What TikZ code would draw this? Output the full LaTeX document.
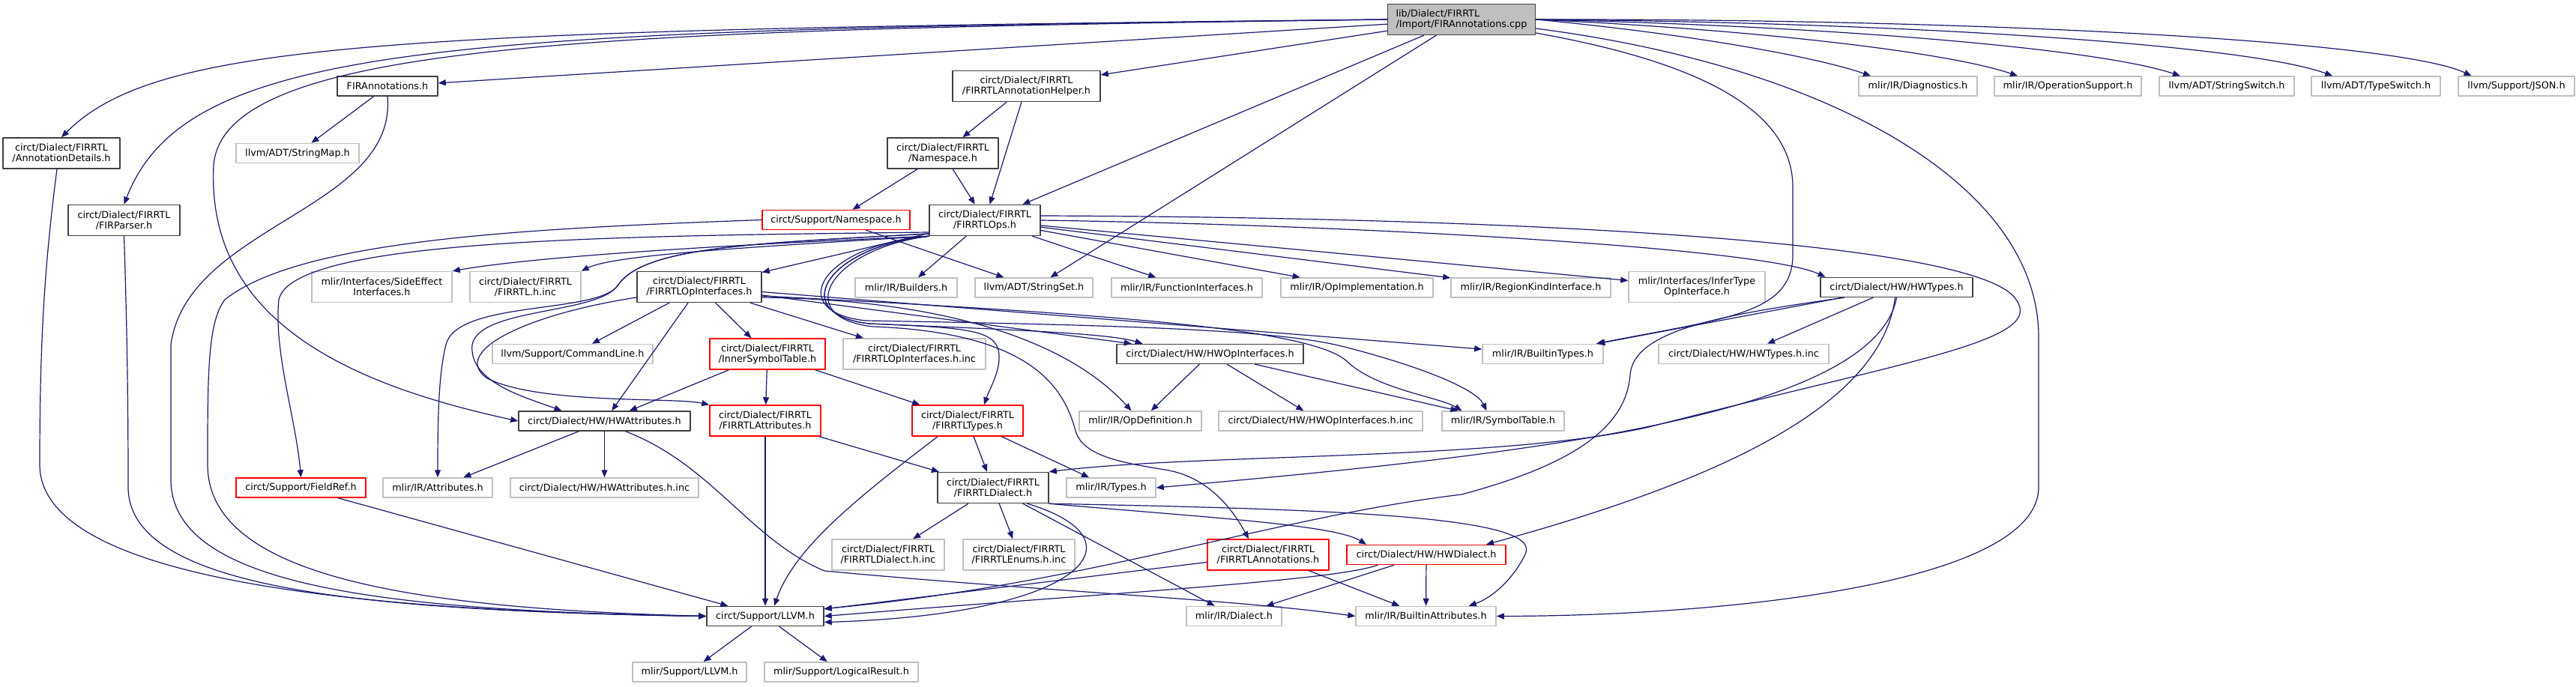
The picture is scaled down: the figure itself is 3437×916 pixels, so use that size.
\documentclass[tikz,border=0pt]{standalone}
\usepackage{fontspec}
\setmainfont{DejaVu Sans}
\usetikzlibrary{arrows.meta}
\definecolor{depblue}{RGB}{25,25,112}
\begin{document}
\begin{tikzpicture}[x=1pt, y=-1pt, line join=round, line cap=round, >={Triangle[length=10pt,width=8pt]},
	font=\fontsize{12.8}{14}\selectfont,
	file/.style={draw=black!75, line width=1.5pt, minimum height=26pt, inner sep=0pt, align=center},
	sys/.style={file, draw=black!25},
	trunc/.style={file, draw=red},
	twoline/.style={minimum height=41pt},
	dep/.style={draw=depblue, line width=1.2pt, ->}]
	\useasboundingbox (0,0) rectangle (3437,916);

	\node[file, fill=black!25, twoline, align=left, minimum width=197pt] (root) at (1950,26) {lib/Dialect/FIRRTL\\/Import/FIRAnnotations.cpp};
	\node[file, minimum width=134pt] (firann) at (517,115) {FIRAnnotations.h};
	\node[sys, minimum width=164pt] (strMap) at (397,204.5) {llvm/ADT/StringMap.h};
	\node[file, twoline, minimum width=156pt] (annDet) at (82,204.5) {circt/Dialect/FIRRTL\\/AnnotationDetails.h};
	\node[file, twoline, minimum width=149pt] (firPar) at (165.5,294) {circt/Dialect/FIRRTL\\/FIRParser.h};
	\node[file, twoline, minimum width=197pt] (annHelp) at (1369.5,115) {circt/Dialect/FIRRTL\\/FIRRTLAnnotationHelper.h};
	\node[file, twoline, minimum width=148pt] (fNs) at (1258,204.5) {circt/Dialect/FIRRTL\\/Namespace.h};
	\node[trunc, minimum width=197pt] (sNs) at (1115.5,293.5) {circt/Support/Namespace.h};
	\node[file, twoline, minimum width=148pt] (ops) at (1314,294) {circt/Dialect/FIRRTL\\/FIRRTLOps.h};
	\node[sys, minimum width=158pt] (diag) at (2559,115) {mlir/IR/Diagnostics.h};
	\node[sys, minimum width=196pt] (opSup) at (2759,115) {mlir/IR/OperationSupport.h};
	\node[sys, minimum width=180pt] (strSw) at (2971,115) {llvm/ADT/StringSwitch.h};
	\node[sys, minimum width=172pt] (typeSw) at (3170,115) {llvm/ADT/TypeSwitch.h};
	\node[sys, minimum width=155pt] (json) at (3357.5,115) {llvm/Support/JSON.h};
	\node[sys, twoline, minimum width=187pt] (sideEff) at (509.5,383) {mlir/Interfaces/SideEffect\\Interfaces.h};
	\node[sys, twoline, minimum width=148pt] (firInc) at (701,383) {circt/Dialect/FIRRTL\\/FIRRTL.h.inc};
	\node[file, twoline, minimum width=166pt] (opIf) at (933,383) {circt/Dialect/FIRRTL\\/FIRRTLOpInterfaces.h};
	\node[sys, minimum width=136pt] (build) at (1209,384) {mlir/IR/Builders.h};
	\node[sys, minimum width=157pt] (strSet) at (1379.5,384) {llvm/ADT/StringSet.h};
	\node[sys, minimum width=201pt] (funcIf) at (1583.5,384) {mlir/IR/FunctionInterfaces.h};
	\node[sys, minimum width=203pt] (opImpl) at (1810.5,384) {mlir/IR/OpImplementation.h};
	\node[sys, minimum width=213pt] (regKind) at (2042.5,384) {mlir/IR/RegionKindInterface.h};
	\node[sys, twoline, minimum width=182pt] (infer) at (2264,383) {mlir/Interfaces/InferType\\OpInterface.h};
	\node[file, minimum width=203pt] (hwTy) at (2530.5,383.5) {circt/Dialect/HW/HWTypes.h};
	\node[sys, minimum width=214pt] (cmdLine) at (764,472.5) {llvm/Support/CommandLine.h};
	\node[trunc, twoline, minimum width=154pt] (innerSym) at (1024,472.5) {circt/Dialect/FIRRTL\\/InnerSymbolTable.h};
	\node[sys, twoline, minimum width=190pt] (opIfInc) at (1220,472.5) {circt/Dialect/FIRRTL\\/FIRRTLOpInterfaces.h.inc};
	\node[file, minimum width=249pt] (hwOpIf) at (1614.5,472.5) {circt/Dialect/HW/HWOpInterfaces.h};
	\node[sys, minimum width=161pt] (bTypes) at (2058.5,472.5) {mlir/IR/BuiltinTypes.h};
	\node[sys, minimum width=227pt] (hwTyInc) at (2326.5,472.5) {circt/Dialect/HW/HWTypes.h.inc};
	\node[file, minimum width=229pt] (hwAttr) at (806.5,562) {circt/Dialect/HW/HWAttributes.h};
	\node[trunc, twoline, minimum width=148pt] (fAttr) at (1021,561.5) {circt/Dialect/FIRRTL\\/FIRRTLAttributes.h};
	\node[trunc, twoline, minimum width=148pt] (fTypes) at (1291,561.5) {circt/Dialect/FIRRTL\\/FIRRTLTypes.h};
	\node[sys, minimum width=163pt] (opDef) at (1521.5,562) {mlir/IR/OpDefinition.h};
	\node[sys, minimum width=272pt] (hwOpIfInc) at (1762,562) {circt/Dialect/HW/HWOpInterfaces.h.inc};
	\node[sys, minimum width=163pt] (symTab) at (2005.5,562) {mlir/IR/SymbolTable.h};
	\node[trunc, minimum width=173pt] (fieldRef) at (401.5,651) {circt/Support/FieldRef.h};
	\node[sys, minimum width=146pt] (attrs) at (584,651) {mlir/IR/Attributes.h};
	\node[sys, minimum width=251pt] (hwAttrInc) at (806.5,651) {circt/Dialect/HW/HWAttributes.h.inc};
	\node[file, twoline, minimum width=148pt] (fDial) at (1325,651) {circt/Dialect/FIRRTL\\/FIRRTLDialect.h};
	\node[sys, minimum width=119pt] (types) at (1482.5,651) {mlir/IR/Types.h};
	\node[sys, twoline, minimum width=150pt] (fDialInc) at (1185,740.5) {circt/Dialect/FIRRTL\\/FIRRTLDialect.h.inc};
	\node[sys, twoline, minimum width=149pt] (fEnums) at (1359.5,740.5) {circt/Dialect/FIRRTL\\/FIRRTLEnums.h.inc};
	\node[trunc, twoline, minimum width=162pt] (fAnno) at (1692,740.5) {circt/Dialect/FIRRTL\\/FIRRTLAnnotations.h};
	\node[trunc, minimum width=212pt] (hwDial) at (1903,740.5) {circt/Dialect/HW/HWDialect.h};
	\node[file, minimum width=156pt] (cLLVM) at (1021,822.5) {circt/Support/LLVM.h};
	\node[sys, minimum width=127pt] (dialect) at (1646.5,822.5) {mlir/IR/Dialect.h};
	\node[sys, minimum width=187pt] (bAttrs) at (1902.5,822.5) {mlir/IR/BuiltinAttributes.h};
	\node[sys, minimum width=152pt] (mLLVM) at (920,897) {mlir/Support/LLVM.h};
	\node[sys, minimum width=205pt] (logRes) at (1122.5,897) {mlir/Support/LogicalResult.h};

	\foreach \a/\b in {root/firann, root/annHelp, root/ops, root/strSet, firann/strMap, annHelp/fNs, annHelp/ops,
		fNs/sNs, fNs/ops, sNs/strSet, ops/opIf, ops/build, ops/funcIf, ops/opImpl, ops/regKind, ops/infer,
		opIf/cmdLine, opIf/innerSym, opIf/opIfInc, opIf/hwOpIf, opIf/bTypes, opIf/hwAttr,
		innerSym/hwAttr, innerSym/fAttr, innerSym/fTypes, hwOpIf/opDef, hwOpIf/hwOpIfInc, hwOpIf/symTab,
		hwTy/bTypes, hwTy/hwTyInc, hwAttr/attrs, hwAttr/hwAttrInc, fAttr/fDial, fAttr/cLLVM,
		fTypes/fDial, fTypes/types, fieldRef/cLLVM, fDial/fDialInc, fDial/fEnums, fDial/dialect,
		fAnno/cLLVM, fAnno/bAttrs, hwDial/dialect, hwDial/bAttrs, cLLVM/mLLVM, cLLVM/logRes}
		\draw[dep] (\a) -- (\b);

	\draw[dep] (root.west) .. controls (520,40) and (210,55) .. (annDet.north);
	\draw[dep] (root.west) .. controls (600,40) and (250,55) .. (firPar.north);
	\draw[dep] (root.west) .. controls (800,40) and (300,55) .. (285,220) .. controls (275,420) and (450,510) .. (hwAttr.west);
	\draw[dep] (root.east) .. controls (2250,45) and (2420,75) .. ([xshift=-63pt]diag.north);
	\draw[dep] (root.east) .. controls (2350,40) and (2600,70) .. ([xshift=-67pt]opSup.north);
	\draw[dep] (root.east) .. controls (2450,35) and (2800,65) .. ([xshift=-62pt]strSw.north);
	\draw[dep] (root.east) .. controls (2550,30) and (3000,60) .. ([xshift=-58pt]typeSw.north);
	\draw[dep] (root.east) .. controls (2650,25) and (3200,55) .. ([xshift=-60pt]json.north);
	\draw[dep] ([yshift=-18pt]root.east) .. controls (2250,80) and (2392,140) .. (2392,250) -- (2392,340) .. controls (2392,420) and (2300,425) .. ([xshift=-10pt]bTypes.north east);
	\draw[dep] ([yshift=-12pt]root.east) .. controls (2450,90) and (2720,250) .. (2720,450) -- (2720,650) .. controls (2720,780) and (2300,822) .. (bAttrs.east);

	\draw[dep] (firann.south) .. controls (530,280) and (250,300) .. (228,460) -- (228,640) .. controls (228,780) and (500,815) .. (cLLVM.west);
	\draw[dep] ([xshift=-6pt]annDet.south) .. controls (60,350) and (53,450) .. (53,620) .. controls (53,760) and (400,815) .. (cLLVM.west);
	\draw[dep] (firPar.south) .. controls (170,450) and (171,550) .. (171,650) .. controls (171,790) and (500,815) .. (cLLVM.west);
	\draw[dep] (sNs.west) .. controls (700,305) and (400,320) .. (300,400) .. controls (277,430) and (277,500) .. (277,620) .. controls (277,770) and (550,812) .. (cLLVM.west);

	\draw[dep] (ops.south west) .. controls (900,330) and (700,345) .. (sideEff.north east);
	\draw[dep] (ops.south west) .. controls (1000,330) and (820,340) .. (firInc.north east);
	\draw[dep] ([yshift=-16pt]ops.west) .. controls (800,315) and (390,320) .. (372,400) .. controls (365,470) and (395,560) .. (fieldRef.north);
	\draw[dep] ([yshift=-18pt]ops.west) .. controls (1000,325) and (860,330) .. (825,380) .. controls (800,420) and (640,410) .. (630,460) .. controls (625,510) and (700,530) .. ([xshift=-57pt]hwAttr.north);
	\draw[dep] ([yshift=-18pt]ops.west) .. controls (1000,325) and (860,330) .. (825,380) .. controls (800,420) and (610,400) .. (595,460) .. controls (585,500) and (584,560) .. (attrs.north);
	\draw[dep] (ops.south west) .. controls (1100,330) and (1050,420) .. (1160,432) .. controls (1300,438) and (1335,440) .. (1333,480) .. controls (1332,500) and (1320,520) .. ([xshift=22pt]fTypes.north);
	\draw[dep] (ops.south west) .. controls (1105,333) and (1055,424) .. (1165,436) .. controls (1380,444) and (1420,520) .. (1435,575) .. controls (1445,610) and (1500,618) .. (1560,628) .. controls (1620,640) and (1650,690) .. ([xshift=-26pt]fAnno.north);
	\draw[dep] (ops.south west) .. controls (1095,327) and (1045,416) .. (1155,428) .. controls (1500,434) and (1700,440) .. (1790,462) .. controls (1900,490) and (1970,520) .. ([xshift=-22pt]symTab.north);
	\draw[dep] (ops.south west) .. controls (1100,330) and (1050,420) .. (1160,432) .. controls (1350,440) and (1480,445) .. ([xshift=-90pt]hwOpIf.north);
	\draw[dep] (ops.east) .. controls (1800,300) and (2350,330) .. ([xshift=-95pt]hwTy.north);
	\draw[dep] ([yshift=6pt]ops.east) .. controls (2000,290) and (2640,320) .. (2690,400) .. controls (2730,455) and (2550,480) .. (2200,570) .. controls (2000,615) and (1600,605) .. (fDial.north east);

	\draw[dep] ([yshift=-14pt]opIf.west) .. controls (700,420) and (600,470) .. (650,505) .. controls (720,540) and (900,530) .. (fAttr.north west);
	\draw[dep] ([yshift=-12pt]opIf.east) .. controls (1500,420) and (1760,440) .. (1800,485) .. controls (1840,520) and (1920,530) .. ([xshift=-55pt]symTab.north);
	\draw[dep] ([yshift=-14pt]opIf.east) .. controls (1250,400) and (1420,450) .. ([xshift=-12pt]opDef.north);

	\draw[dep] (hwTy.south) .. controls (2500,560) and (2000,610) .. (types.east);
	\draw[dep] ([xshift=-2pt]hwTy.south) .. controls (2510,540) and (2300,640) .. ([xshift=80pt]hwDial.north);
	\draw[dep] ([xshift=-70pt]hwTy.south) .. controls (2300,420) and (2180,440) .. (2175,500) .. controls (2170,570) and (2100,620) .. (1950,660) .. controls (1700,690) and (1450,780) .. ([yshift=10pt]cLLVM.east);

	\draw[dep] ([xshift=28pt]hwAttr.south) .. controls (950,620) and (1000,720) .. (1100,762) .. controls (1400,790) and (1650,800) .. (bAttrs.west);
	\draw[dep] ([xshift=-40pt]fTypes.south) .. controls (1150,660) and (1060,730) .. ([xshift=12pt]cLLVM.north);
	\draw[dep] ([xshift=-29pt]fDial.south east) .. controls (1530,720) and (1450,820) .. ([yshift=-8pt]cLLVM.east);
	\draw[dep] (fDial.south east) .. controls (1800,680) and (2060,690) .. (2035,740) .. controls (2015,780) and (1985,800) .. ([xshift=-37pt]bAttrs.north east);
	\draw[dep] (fDial.south east) .. controls (1600,690) and (1780,700) .. ([xshift=-80pt]hwDial.north);
	\draw[dep] ([xshift=-65pt]hwDial.south) .. controls (1780,775) and (1500,790) .. (cLLVM.east);
\end{tikzpicture}
\end{document}
